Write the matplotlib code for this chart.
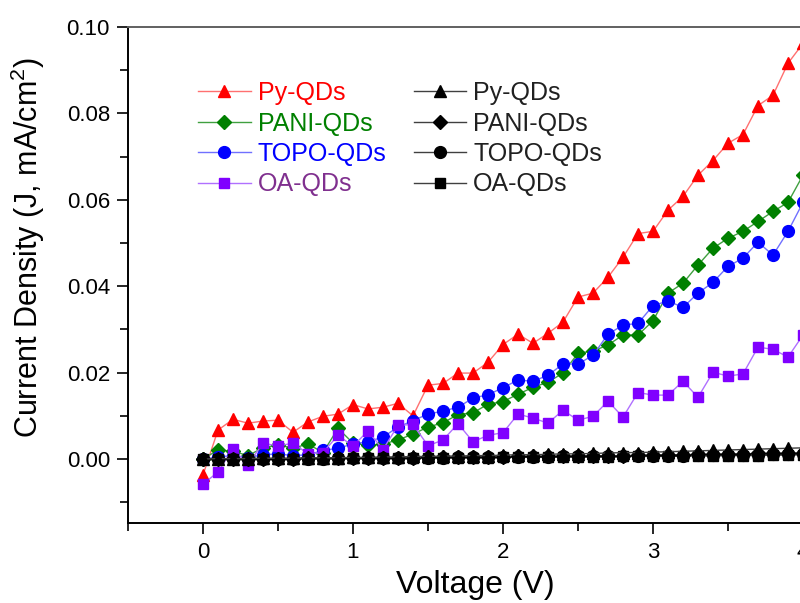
import matplotlib
matplotlib.use("Agg")
import matplotlib.pyplot as plt
from matplotlib.ticker import MultipleLocator

plt.rcParams['font.family'] = ['Liberation Sans', 'DejaVu Sans']
plt.rcParams['mathtext.fontset'] = 'custom'
plt.rcParams['mathtext.rm'] = 'Liberation Sans'

voltage = [0.0, 0.1, 0.2, 0.3, 0.4, 0.5, 0.6, 0.7, 0.8, 0.9,
           1.0, 1.1, 1.2, 1.3, 1.4, 1.5, 1.6, 1.7, 1.8, 1.9,
           2.0, 2.1, 2.2, 2.3, 2.4, 2.5, 2.6, 2.7, 2.8, 2.9,
           3.0, 3.1, 3.2, 3.3, 3.4, 3.5, 3.6, 3.7, 3.8, 3.9, 4.0]

py_qds = [-0.0037, 0.0067, 0.0092, 0.0083, 0.0088, 0.0090, 0.0062, 0.0086, 0.0099, 0.0104,
          0.0126, 0.0116, 0.0120, 0.0129, 0.0100, 0.0171, 0.0175, 0.0199, 0.0199, 0.0224,
          0.0265, 0.0289, 0.0268, 0.0291, 0.0317, 0.0375, 0.0384, 0.0421, 0.0467, 0.0522,
          0.0527, 0.0576, 0.0608, 0.0657, 0.0691, 0.0731, 0.0751, 0.0818, 0.0842, 0.0916, 0.0962]

pani_qds = [0.0000, 0.0021, 0.0018, 0.0008, 0.0026, 0.0033, 0.0025, 0.0035, 0.0015, 0.0071,
            0.0037, 0.0032, 0.0035, 0.0044, 0.0058, 0.0074, 0.0084, 0.0103, 0.0107, 0.0127,
            0.0133, 0.0150, 0.0166, 0.0178, 0.0199, 0.0245, 0.0250, 0.0264, 0.0287, 0.0287,
            0.0320, 0.0384, 0.0407, 0.0449, 0.0488, 0.0511, 0.0527, 0.0550, 0.0573, 0.0594, 0.0657]

topo_qds = [0.0000, 0.0005, 0.0008, 0.0003, 0.0010, 0.0012, 0.0008, 0.0010, 0.0020, 0.0025,
            0.0035, 0.0040, 0.0051, 0.0074, 0.0089, 0.0104, 0.0111, 0.0120, 0.0141, 0.0149,
            0.0165, 0.0183, 0.0180, 0.0194, 0.0220, 0.0220, 0.0240, 0.0289, 0.0310, 0.0314,
            0.0355, 0.0366, 0.0351, 0.0384, 0.0409, 0.0446, 0.0465, 0.0502, 0.0472, 0.0527, 0.0594]

oa_qds = [-0.0058, -0.0030, 0.0024, -0.0013, 0.0037, 0.0030, 0.0037, 0.0012, 0.0015, 0.0055,
          0.0030, 0.0065, 0.0022, 0.0078, 0.0080, 0.0031, 0.0044, 0.0082, 0.0040, 0.0055,
          0.0061, 0.0104, 0.0095, 0.0083, 0.0113, 0.0090, 0.0099, 0.0134, 0.0097, 0.0154,
          0.0148, 0.0148, 0.0180, 0.0143, 0.0201, 0.0192, 0.0197, 0.0259, 0.0254, 0.0236, 0.0287]

py_dark = [0.0000, 0.0001, 0.0001, 0.0001, 0.0002, 0.0002, 0.0002, 0.0003, 0.0003, 0.0003,
           0.0004, 0.0004, 0.0005, 0.0005, 0.0006, 0.0006, 0.0007, 0.0007, 0.0008, 0.0008,
           0.0009, 0.0010, 0.0010, 0.0011, 0.0012, 0.0012, 0.0013, 0.0014, 0.0015, 0.0015,
           0.0016, 0.0017, 0.0018, 0.0019, 0.0020, 0.0021, 0.0022, 0.0023, 0.0024, 0.0025, 0.0026]

pani_dark = [0.0000, 0.0000, 0.0000, 0.0001, 0.0001, 0.0001, 0.0001, 0.0002, 0.0002, 0.0002,
             0.0002, 0.0003, 0.0003, 0.0003, 0.0003, 0.0004, 0.0004, 0.0004, 0.0005, 0.0005,
             0.0005, 0.0006, 0.0006, 0.0006, 0.0007, 0.0007, 0.0008, 0.0008, 0.0008, 0.0009,
             0.0009, 0.0010, 0.0010, 0.0011, 0.0011, 0.0012, 0.0012, 0.0013, 0.0013, 0.0014, 0.0014]

topo_dark = [0.0000, 0.0000, 0.0000, 0.0000, 0.0001, 0.0001, 0.0001, 0.0001, 0.0001, 0.0002,
             0.0002, 0.0002, 0.0002, 0.0003, 0.0003, 0.0003, 0.0003, 0.0004, 0.0004, 0.0004,
             0.0004, 0.0005, 0.0005, 0.0005, 0.0006, 0.0006, 0.0006, 0.0007, 0.0007, 0.0007,
             0.0008, 0.0008, 0.0008, 0.0009, 0.0009, 0.0010, 0.0010, 0.0010, 0.0011, 0.0011, 0.0012]

oa_dark = [0.0000, 0.0000, 0.0000, 0.0000, 0.0000, 0.0001, 0.0001, 0.0001, 0.0001, 0.0001,
           0.0002, 0.0002, 0.0002, 0.0002, 0.0002, 0.0003, 0.0003, 0.0003, 0.0003, 0.0003,
           0.0004, 0.0004, 0.0004, 0.0004, 0.0005, 0.0005, 0.0005, 0.0005, 0.0006, 0.0006,
           0.0006, 0.0006, 0.0007, 0.0007, 0.0007, 0.0008, 0.0008, 0.0008, 0.0009, 0.0009, 0.0010]

labels = ["Py-QDs", "PANI-QDs", "TOPO-QDs", "OA-QDs"]

fig = plt.figure(figsize=(8.0, 6.03), dpi=100)
ax = fig.add_axes([128 / 800, 1 - 523 / 603, 750 / 800, 496 / 603])

light = [
    (py_qds, '^', '#ff0000', '#ff7070', 9),
    (pani_qds, 'D', '#008000', '#40a040', 7),
    (topo_qds, 'o', '#0000ff', '#7070ff', 8.5),
    (oa_qds, 's', '#8000ff', '#b070ff', 7.5),
]
dark = [
    (oa_dark, 's', 7.5),
    (topo_dark, 'o', 8.5),
    (pani_dark, 'D', 7),
    (py_dark, '^', 9),
]

handles_light = []
for (vals, m, mc, lc, ms), lab in zip(light, labels):
    h, = ax.plot(voltage, vals, marker=m, color=lc, lw=1.0, ms=ms,
                 mfc=mc, mec=mc, label=lab, zorder=3)
    handles_light.append(h)

handles_dark = {}
for (vals, m, ms), lab in zip(dark, labels[::-1]):
    h, = ax.plot(voltage, vals, marker=m, color='#404040', lw=1.0, ms=ms,
                 mfc='black', mec='black', label=lab, zorder=5)
    handles_dark[lab] = h

ax.set_xlim(-0.5, 4.5)
ax.set_ylim(-0.0148, 0.10)
ax.xaxis.set_major_locator(MultipleLocator(1))
ax.xaxis.set_minor_locator(MultipleLocator(0.5))
ax.yaxis.set_major_locator(MultipleLocator(0.02))
ax.yaxis.set_minor_locator(MultipleLocator(0.01))
ax.yaxis.set_major_formatter(matplotlib.ticker.FormatStrFormatter('%.2f'))

ax.tick_params(axis='both', which='both', direction='out', length=8, width=1.2,
               labelsize=16, colors='black', top=False, right=False)
ax.tick_params(axis='both', which='minor', length=6)
ax.tick_params(axis='x', pad=6)
ax.tick_params(axis='y', pad=5)

for side in ['left', 'bottom']:
    ax.spines[side].set_linewidth(1.4)
ax.spines['top'].set_linewidth(1.4)
ax.spines['top'].set_color('#606060')
ax.spines['right'].set_visible(False)

ax.set_xlabel("Voltage (V)", fontsize=23)
ax.set_ylabel("Current Density (J, mA/cm$^2$)", fontsize=22)
ax.xaxis.set_label_coords((475 - 128) / 750, (523 - 585) / 496)
ax.yaxis.set_label_coords((28 - 128) / 750, (523 - 248) / 496)
ax.xaxis.label.set_va('center')
ax.yaxis.label.set_va('center')

all_handles = handles_light + [handles_dark[l] for l in labels]
all_labels = labels + labels
leg = ax.legend(all_handles, all_labels, ncol=2, loc='upper left',
                bbox_to_anchor=((198 - 128) / 750, (523 - 81) / 496),
                frameon=False, fontsize=18, handlelength=2.1,
                handletextpad=0.28, columnspacing=1.1, labelspacing=0.26,
                borderpad=0, borderaxespad=0)
text_colors = ['#ff0000', '#008000', '#0000ff', '#80308f'] + ['#202020'] * 4
for t, c in zip(leg.get_texts(), text_colors):
    t.set_color(c)

fig.savefig("out.png", dpi=100)
